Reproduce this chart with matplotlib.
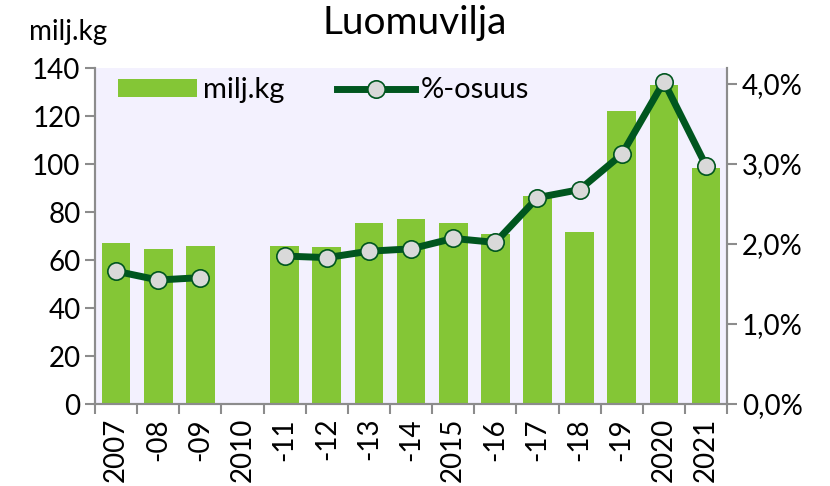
import numpy as np
import matplotlib
matplotlib.use("Agg")
import matplotlib.pyplot as plt

# data
years = ["2007", "-08", "-09", "2010", "-11", "-12", "-13", "-14",
         "2015", "-16", "-17", "-18", "-19", "2020", "2021"]
milj_kg = [67, 64.5, 66, np.nan, 66, 65.3, 75.5, 77, 75.5, 70.8, 86.5, 71.8, 122, 133, 98.5]
osuus = [1.66, 1.55, 1.58, np.nan, 1.85, 1.83, 1.91, 1.94, 2.07, 2.02, 2.58, 2.68, 3.12, 4.03, 2.98]

BAR_COLOR = "#84C636"
LINE_COLOR = "#00561F"
AXIS_GRAY = "#8C8C8C"
FS = 20

plt.rcParams["font.family"] = ["Lato", "DejaVu Sans"]

fig = plt.figure(figsize=(8.30, 4.86), dpi=100)
ax = fig.add_axes([0.1145, 0.1687, 0.7615, 0.6913])
ax.set_facecolor("#F3F1FE")

x = np.arange(len(years))
ax.bar(x, milj_kg, width=0.68, color=BAR_COLOR, label="milj.kg", zorder=2)
ax.set_xlim(-0.5, len(years) - 0.5)
ax.set_ylim(0, 140)
ax.set_yticks(range(0, 141, 20))

ax2 = ax.twinx()
ax2.plot(x, osuus, color=LINE_COLOR, lw=5, marker="o", ms=12.5,
         mfc="#D9D9D9", mec=LINE_COLOR, mew=1.2, label="%-osuus", zorder=3)
ax2.set_ylim(0, 4.2)
ax2.set_yticks([0, 1, 2, 3, 4])
ax2.set_yticklabels([f"{v:.1f}%".replace(".", ",") for v in [0, 1, 2, 3, 4]])

# category ticks between bars, labels at centres
ax.set_xticks(np.arange(-0.5, len(years)), minor=False)
ax.set_xticklabels([])
ax.set_xticks(x, minor=True)
ax.set_xticklabels(years, minor=True, rotation=90, fontsize=FS)
ax.tick_params(axis="x", which="minor", length=0, pad=10)
ax.tick_params(axis="x", which="major", length=7, width=1.5, color=AXIS_GRAY)
ax.tick_params(axis="y", labelsize=FS, length=7, width=1.5, color=AXIS_GRAY)
ax2.tick_params(axis="y", labelsize=FS, length=7, width=1.5, color=AXIS_GRAY)

for a in (ax, ax2):
    a.spines["top"].set_visible(False)
    for side in ("left", "right", "bottom"):
        a.spines[side].set_color(AXIS_GRAY)
        a.spines[side].set_linewidth(1.5)

fig.text(0.5, 0.952, "Luomuvilja", ha="center", va="center", fontsize=28)
fig.text(0.035, 0.935, "milj.kg", ha="left", va="center", fontsize=FS)

h1, l1 = ax.get_legend_handles_labels()
h2, l2 = ax2.get_legend_handles_labels()
ax2.legend(h1 + h2, l1 + l2, loc="upper left", bbox_to_anchor=(-0.005, 1.05),
           ncol=2, frameon=False, fontsize=21, handlelength=2.7,
           handleheight=0.6, columnspacing=1.8, handletextpad=0.2)

fig.savefig("out.png", dpi=100)
